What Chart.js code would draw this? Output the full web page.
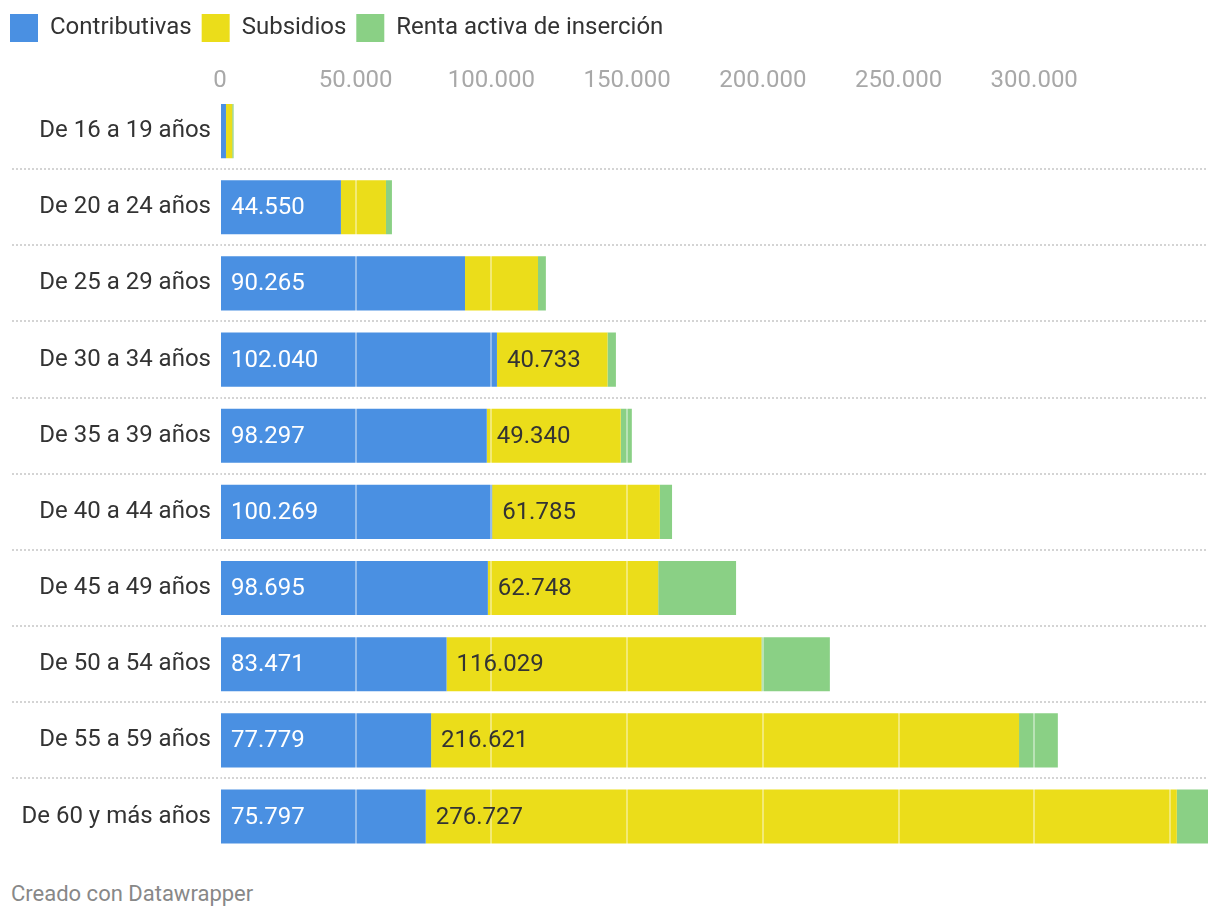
<!DOCTYPE html>
<html lang="es">
<head>
<meta charset="utf-8">
<title>Prestaciones por edad</title>
<script src="https://cdn.jsdelivr.net/npm/chart.js@4"></script>
<style>
  body { margin: 0; background: #fff; font-family: Roboto, sans-serif; }
  #wrap { position: relative; width: 1220px; height: 870px; }
  #footer { position: absolute; left: 11px; top: 881px; font: 22px Roboto, sans-serif; color: #888; }
</style>
</head>
<body>
<div id="wrap"><canvas id="chart"></canvas></div>
<div id="footer">Creado con Datawrapper</div>
<script>
const categories = [
    'De 16 a 19 años', 'De 20 a 24 años', 'De 25 a 29 años', 'De 30 a 34 años',
    'De 35 a 39 años', 'De 40 a 44 años', 'De 45 a 49 años', 'De 50 a 54 años',
    'De 55 a 59 años', 'De 60 y más años'
];
const contributivas = [2200, 44550, 90265, 102040, 98297, 100269, 98695, 83471, 77779, 75797];
const subsidios = [2300, 16600, 26900, 40733, 49340, 61785, 62748, 116029, 216621, 276727];
const renta = [500, 2200, 2900, 3100, 4100, 4500, 28700, 25200, 14300, 11500];
const xTicks = [0, 50000, 100000, 150000, 200000, 250000, 300000, 350000];
const xTickLabels = ['0', '50.000', '100.000', '150.000', '200.000', '250.000', '300.000', ''];

const totals = categories.map((c, i) => contributivas[i] + subsidios[i] + renta[i]);

function fmt(v) {
    return String(Math.round(v)).replace(/\B(?=(\d{3})+(?!\d))/g, '.');
}

// dotted separators between rows, reaching into the label area
const separators = {
    id: 'separators',
    beforeDatasetsDraw(chart) {
        const ctx = chart.ctx;
        const y = chart.scales.y;
        ctx.save();
        ctx.strokeStyle = '#d4d4d4';
        ctx.lineWidth = 2;
        ctx.setLineDash([2, 2]);
        for (let i = 0; i < categories.length - 1; i++) {
            const py = Math.round((y.getPixelForValue(i) + y.getPixelForValue(i + 1)) / 2);
            ctx.beginPath();
            ctx.moveTo(12, py);
            ctx.lineTo(chart.chartArea.right, py);
            ctx.stroke();
        }
        ctx.restore();
    }
};

// value labels inside the segments, only where they fit
const valueLabels = {
    id: 'valueLabels',
    afterDraw(chart) {
        const ctx = chart.ctx;
        ctx.save();
        ctx.font = '24px Roboto';
        ctx.textBaseline = 'middle';
        ctx.textAlign = 'left';
        [0, 1].forEach(d => {
            const meta = chart.getDatasetMeta(d);
            const values = chart.data.datasets[d].data;
            meta.data.forEach((bar, i) => {
                const text = fmt(values[i]);
                const w = ctx.measureText(text).width;
                if (bar.x - bar.base < w + 24) return;
                ctx.fillStyle = d === 0 ? '#ffffff' : '#333333';
                ctx.fillText(text, bar.base + 10, bar.y + 1);
            });
        });
        ctx.restore();
    }
};

new Chart(document.getElementById('chart'), {
    type: 'bar',
    data: {
        labels: categories,
        datasets: [
            { label: 'Contributivas', data: contributivas, backgroundColor: '#4a90e2' },
            { label: 'Subsidios', data: subsidios, backgroundColor: '#ebdd1a' },
            { label: 'Renta activa de inserción', data: renta, backgroundColor: '#8ad085' }
        ]
    },
    options: {
        indexAxis: 'y',
        responsive: true,
        maintainAspectRatio: false,
        animation: false,
        layout: { padding: { top: 4, right: 12, left: 0, bottom: 11 } },
        datasets: {
            bar: { barPercentage: 0.711, categoryPercentage: 1, borderWidth: 0 }
        },
        scales: {
            x: {
                position: 'top',
                stacked: true,
                min: 0,
                max: Math.max(...totals),
                afterBuildTicks: scale => { scale.ticks = xTicks.map(v => ({ value: v })); },
                afterFit: scale => { scale.height = 41; },
                border: { display: false },
                grid: { color: 'rgba(255,255,255,0.4)', lineWidth: 2, drawTicks: false, z: 1 },
                ticks: {
                    padding: -2,
                    color: '#a8a8a8',
                    font: { family: 'Roboto', size: 24 },
                    maxRotation: 0,
                    autoSkip: false,
                    callback: (v, i) => xTickLabels[i]
                }
            },
            y: {
                stacked: true,
                afterFit: scale => { scale.width = 220; },
                border: { display: false },
                grid: { display: false },
                ticks: {
                    padding: 1,
                    color: '#333',
                    font: { family: 'Roboto', size: 24 }
                }
            }
        },
        plugins: {
            legend: {
                position: 'top',
                align: 'start',
                labels: {
                    boxWidth: 28,
                    boxHeight: 28,
                    padding: 10,
                    color: '#333',
                    font: { family: 'Roboto', size: 24 }
                }
            },
            tooltip: { enabled: false }
        }
    },
    plugins: [separators, valueLabels]
});
</script>
</body>
</html>
